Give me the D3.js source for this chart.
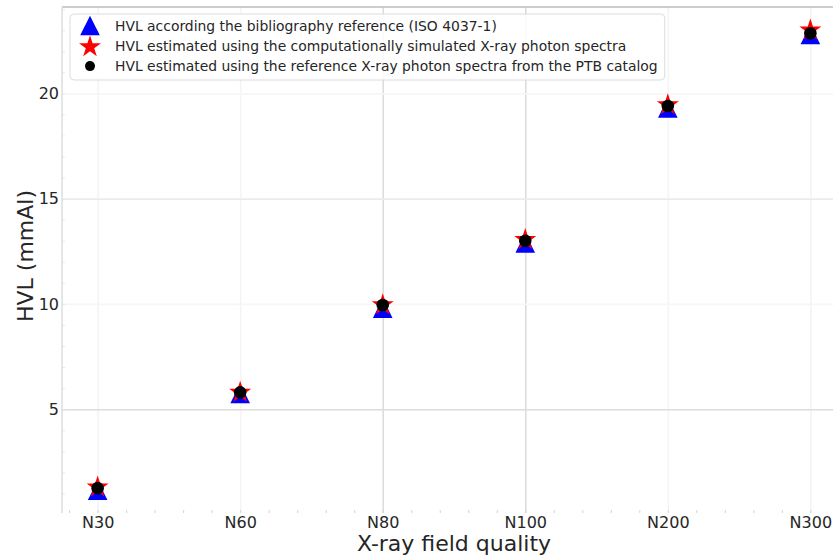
<!DOCTYPE html>
<html>
<head>
<meta charset="utf-8">
<script src="https://cdn.jsdelivr.net/npm/d3@7"></script>
<style>
  body { margin: 0; background: #fff; }
  text { font-family: "DejaVu Sans", sans-serif; fill: #262626; }
</style>
</head>
<body>
<div class="chart"></div>
<script>
// data
const qualities = ['N30', 'N60', 'N80', 'N100', 'N200', 'N300'];
const hvlIso = [1.15, 5.75, 9.8, 12.9, 19.3, 22.8];
const hvlSimulated = [1.35, 5.85, 10.0, 13.1, 19.5, 23.05];
const hvlPtb = [1.25, 5.8, 9.95, 13.0, 19.4, 22.85];
const yTicks = [5, 10, 15, 20];
const legendLabels = [
  'HVL according the bibliography reference (ISO 4037-1)',
  'HVL estimated using the computationally simulated X-ray photon spectra',
  'HVL estimated using the reference X-ray photon spectra from the PTB catalog'
];

const svgWidth = 833;
const svgHeight = 558;

const plot = { left: 62, right: 846, top: 7, bottom: 513 };

// gridline shades (the reference shows them unevenly)
const xGridColor = ['#f4f4f4', '#f4f4f4', '#dcdcdc', '#dcdcdc', '#f4f4f4', '#f4f4f4'];
const yGridColor = { 5: '#dcdcdc', 10: '#f6f6f6', 15: '#ebebeb', 20: '#f6f6f6' };

const svg = d3.select('.chart')
  .append('svg')
  .attr('width', svgWidth)
  .attr('height', svgHeight);

const x = d3.scaleLinear()
  .domain([-0.25, 5.25])
  .range([plot.left, plot.right]);

const y = d3.scaleLinear()
  .domain([0.07, 24.1])
  .range([plot.bottom, plot.top]);

const plotH = plot.bottom - plot.top;
const plotW = plot.right - plot.left;

// grid
const xGrid = svg.append('g')
  .attr('transform', `translate(0, ${plot.bottom})`)
  .call(d3.axisBottom(x).tickValues(d3.range(qualities.length)).tickSize(-plotH).tickFormat(''));
xGrid.select('.domain').remove();
xGrid.selectAll('.tick line')
  .attr('stroke', (d, i) => xGridColor[i])
  .attr('stroke-width', 1.6);

const yGrid = svg.append('g')
  .attr('transform', `translate(${plot.left}, 0)`)
  .call(d3.axisLeft(y).tickValues(yTicks).tickSize(-plotW).tickFormat(''));
yGrid.select('.domain').remove();
yGrid.selectAll('.tick line')
  .attr('stroke', d => yGridColor[d])
  .attr('stroke-width', 1.6);

// minor ticks
const xMinor = svg.append('g')
  .attr('transform', `translate(0, ${plot.bottom})`)
  .call(d3.axisBottom(x).tickValues(d3.range(-0.2, 5.21, 0.2)).tickSize(-3).tickFormat(''));
xMinor.select('.domain').remove();
xMinor.selectAll('.tick line').attr('stroke', '#d4d4d4');

const yMinor = svg.append('g')
  .attr('transform', `translate(${plot.left}, 0)`)
  .call(d3.axisLeft(y).tickValues(d3.range(1, 25, 1)).tickSize(-3).tickFormat(''));
yMinor.select('.domain').remove();
yMinor.selectAll('.tick line').attr('stroke', '#e8e8e8');

// spines
svg.append('line')
  .attr('x1', plot.left).attr('x2', svgWidth)
  .attr('y1', plot.top).attr('y2', plot.top)
  .attr('stroke', '#bdbdbd').attr('stroke-width', 1.5);
svg.append('line')
  .attr('x1', plot.left).attr('x2', plot.left)
  .attr('y1', plot.top).attr('y2', plot.bottom)
  .attr('stroke', '#dedede').attr('stroke-width', 1.5);

// tick labels
const xAxis = svg.append('g')
  .attr('transform', `translate(0, ${plot.bottom})`)
  .call(d3.axisBottom(x).tickValues(d3.range(qualities.length))
    .tickSize(0).tickPadding(4).tickFormat(i => qualities[i]));
xAxis.select('.domain').remove();
xAxis.selectAll('text').attr('font-size', 16).attr('font-family', '"DejaVu Sans", sans-serif');

const yAxis = svg.append('g')
  .attr('transform', `translate(${plot.left}, 0)`)
  .call(d3.axisLeft(y).tickValues(yTicks).tickSize(0).tickPadding(3));
yAxis.select('.domain').remove();
yAxis.selectAll('text').attr('font-size', 16).attr('font-family', '"DejaVu Sans", sans-serif');

// axis titles
svg.append('text')
  .attr('x', (plot.left + plot.right) / 2)
  .attr('y', 551)
  .attr('text-anchor', 'middle')
  .attr('font-size', 22)
  .text('X-ray field quality');

svg.append('text')
  .attr('transform', 'translate(33, 256) rotate(-90)')
  .attr('text-anchor', 'middle')
  .attr('font-size', 22)
  .text('HVL (mmAl)');

// markers
function trianglePath(half) {
  return `M0,${-half}L${half},${half}L${-half},${half}Z`;
}
const starPath = d3.symbol().type(d3.symbolStar).size(150)();

const series = [
  { values: hvlIso, kind: 'tri', color: '#0000ff' },
  { values: hvlSimulated, kind: 'star', color: '#ff0000' },
  { values: hvlPtb, kind: 'dot', color: '#000000' }
];

function drawMarker(g, kind, color) {
  if (kind === 'tri') {
    g.append('path').attr('d', trianglePath(9.8)).attr('fill', color);
  } else if (kind === 'star') {
    g.append('path').attr('d', starPath).attr('fill', color).attr('transform', 'translate(0, 1)');
  } else {
    g.append('circle').attr('r', 6.3).attr('fill', color);
  }
}

series.forEach(s => {
  svg.append('g')
    .selectAll('g')
    .data(s.values)
    .enter()
    .append('g')
    .attr('transform', (d, i) => `translate(${x(i)}, ${y(d)})`)
    .each(function() { drawMarker(d3.select(this), s.kind, s.color); });
});

// legend
const legend = svg.append('g');
const legendBox = legend.append('rect')
  .attr('x', 70).attr('y', 14)
  .attr('height', 66)
  .attr('rx', 4)
  .attr('fill', '#fff').attr('fill-opacity', 0.85)
  .attr('stroke', '#dcdcdc');

let maxW = 0;
legendLabels.forEach((label, i) => {
  const cy = 25.5 + i * 20.3;
  const mg = legend.append('g').attr('transform', `translate(90, ${cy})`);
  if (series[i].kind === 'dot') {
    mg.append('circle').attr('r', 5).attr('fill', series[i].color);
  } else {
    drawMarker(mg, series[i].kind, series[i].color);
  }
  const t = legend.append('text')
    .attr('x', 115)
    .attr('y', cy + 5)
    .attr('font-size', 13.9)
    .text(label);
  maxW = Math.max(maxW, t.node().getComputedTextLength());
});
legendBox.attr('width', 115 + maxW + 7 - 70);
</script>
</body>
</html>
